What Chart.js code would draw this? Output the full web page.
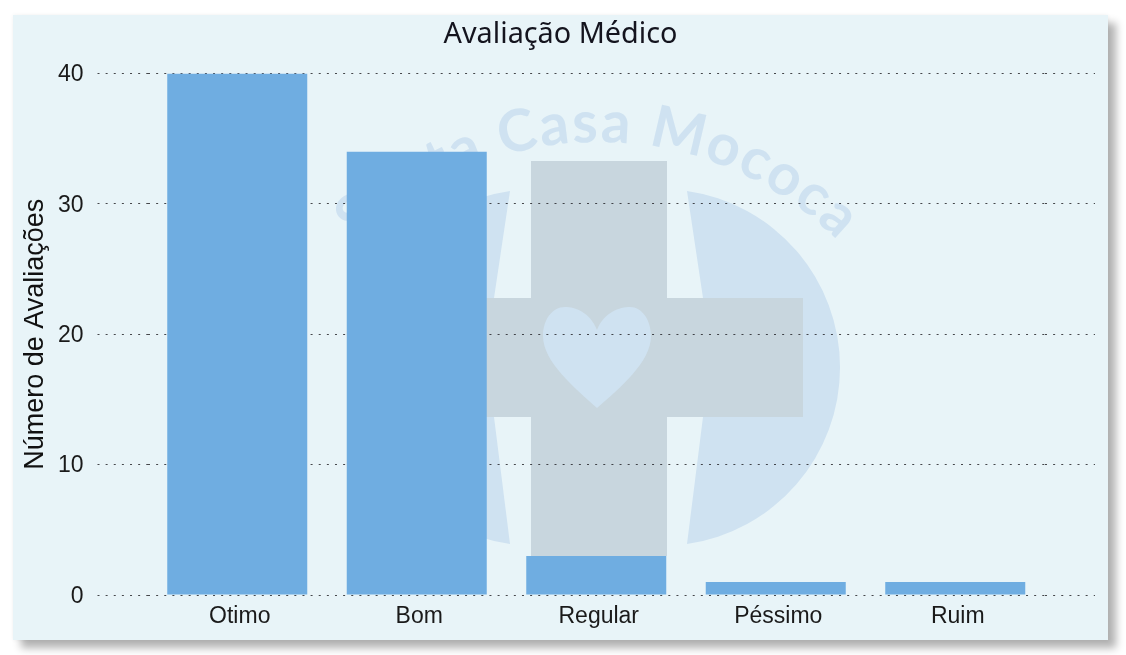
<!DOCTYPE html>
<html>
<head>
<meta charset="utf-8">
<title>Avaliação Médico</title>
<script src="https://cdn.jsdelivr.net/npm/chart.js@4/dist/chart.umd.min.js"></script>
<style>
html, body { margin: 0; padding: 0; background: #fff; overflow: hidden; }
#card { position: absolute; left: 13px; top: 15px; width: 1095px; height: 625px; background: #e8f4f8; box-shadow: 8px 8px 8px rgba(0,0,0,.3), 0 0 4px rgba(0,0,0,.06); }
#logo { position: absolute; left: 0; top: 0; }
#myChart { position: absolute; left: 0; top: 0; }
</style>
</head>
<body>
<div id="card"></div>
<!-- marca d'agua atras do grafico -->
<svg id="logo" width="1126" height="655">
  <defs><path id="arco" d="M 302.7 312.5 A 341 341 0 0 1 893.3 312.5"/></defs>
  <path fill="#cfe2f1" d="M687 191 L703 298 L703 417 L687 544 A178.3 178.3 0 0 0 687 191 Z"/>
  <path fill="#cfe2f1" d="M510 191 L494 298 L494 417 L510 544 A178.3 178.3 0 0 1 510 191 Z"/>
  <path fill="#c8d6de" d="M531 161 H667 V298 H803 V417 H667 V556 H531 V417 H393 V298 H531 Z"/>
  <path fill="#cfe2f1" d="M597 330 C590 312 575 307 565 307 C552 307 543 320 543 336 C543 362 575 388 597 408 C620 388 651 362 651 336 C651 320 642 307 630 307 C620 307 604 312 597 330 Z"/>
  <text font-family="Lato" font-size="58" font-weight="700" letter-spacing="2" fill="#cfe2f1" text-anchor="middle"><textPath href="#arco" startOffset="50%">Santa Casa Mococa</textPath></text>
</svg>
<canvas id="myChart" width="1126" height="655"></canvas>
<script>
const categories = ["Otimo", "Bom", "Regular", "Péssimo", "Ruim"];
const avaliacoes = [40, 34, 3, 1, 1];
const chartTitle = "Avaliação Médico";
const yAxisTitle = "Número de Avaliações";
const yMin = 0;
const yMax = 40;
const yStep = 10;

const dots = [2, 6.13];
const dotColor = "rgba(40,40,45,.85)";
const labelFont = "'Liberation Sans', Arial, sans-serif";

new Chart(document.getElementById("myChart"), {
	type: "bar",
	data: {
		labels: categories,
		datasets: [{
			label: yAxisTitle,
			data: avaliacoes,
			backgroundColor: "#6fade1",
			borderWidth: 0,
			barPercentage: 0.78,
			categoryPercentage: 1,
			yAxisID: "y"
		}]
	},
	options: {
		responsive: false,
		animation: false,
		devicePixelRatio: 1,
		layout: { padding: { right: 5 } },
		plugins: {
			legend: { display: false },
			tooltip: { enabled: false },
			title: {
				display: true,
				text: chartTitle,
				color: "#14141e",
				font: { family: "'Noto Sans'", size: 28.8, weight: "normal", lineHeight: 1.2 },
				padding: { top: 18, bottom: 21 }
			}
		},
		scales: {
			x: {
				grid: { display: false },
				border: { display: false },
				ticks: { color: "#1a1a1a", font: { family: labelFont, size: 23 }, padding: 0, labelOffset: 2.5, maxRotation: 0 },
				afterFit: function(scale) { scale.height = 60; }
			},
			y: {
				position: "left",
				min: yMin,
				max: yMax,
				grid: { color: dotColor, tickColor: dotColor, tickLength: 50, tickBorderDash: dots },
				border: { display: false, dash: dots },
				ticks: { stepSize: yStep, color: "#1a1a1a", font: { family: labelFont, size: 23 }, padding: 14, labelOffset: 1.5 },
				title: { display: true, text: yAxisTitle, color: "#111", font: { family: labelFont, size: 27 }, padding: { top: 19, bottom: 0 } },
				afterFit: function(scale) { scale.width = 147.5; }
			},
			y1: {
				position: "right",
				min: yMin,
				max: yMax,
				grid: { drawOnChartArea: false, tickColor: dotColor, tickLength: 50, tickBorderDash: dots },
				border: { display: false },
				ticks: { stepSize: yStep, display: false },
				afterFit: function(scale) { scale.width = 76; }
			}
		}
	}
});
</script>
</body>
</html>
